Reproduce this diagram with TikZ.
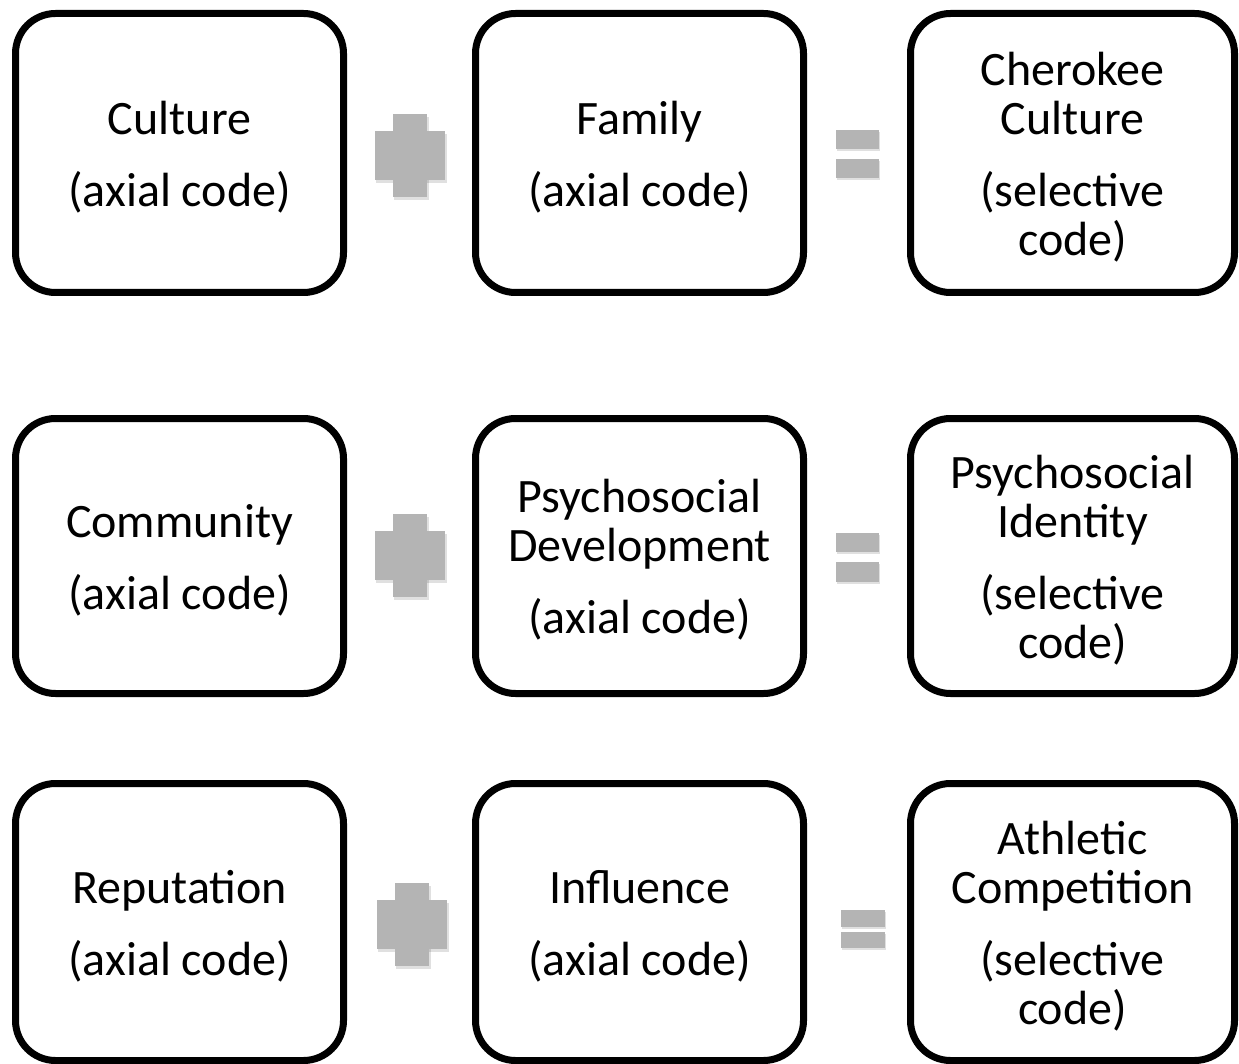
\documentclass[tikz,border=0pt]{standalone}
\usepackage{fontspec}
\setmainfont{Carlito}
\usetikzlibrary{shadows}
\definecolor{opgray}{HTML}{B4B4B4}
\tikzset{
  codebox/.style={draw=black, fill=white, line width=7pt, rounded corners=40pt,
    align=center, inner sep=0pt, minimum width=328pt,
    font=\fontsize{48}{49}\selectfont, text depth=0pt,
    drop shadow={opacity=0.25, shadow xshift=2pt, shadow yshift=-3pt}},
  opfill/.style={fill=opgray},
  opshadow/.style={fill=black, opacity=0.12}
}
\begin{document}
\begin{tikzpicture}[x=1pt,y=-1pt]
\useasboundingbox (0,0) rectangle (1239,1064);
% row 1
\node[codebox, minimum height=279pt] (c1) at (179.5,153) {};
\node[codebox, minimum height=279pt] (f1) at (639.5,153) {};
\node[codebox, minimum height=279pt, minimum width=324pt] (s1) at (1072.5,153) {};
% row 2
\node[codebox, minimum height=275pt] (c2) at (179.5,556) {};
\node[codebox, minimum height=275pt] (f2) at (639.5,556) {};
\node[codebox, minimum height=275pt, minimum width=324pt] (s2) at (1072.5,556) {};
% row 3
\node[codebox, minimum height=277pt] (c3) at (179.5,922) {};
\node[codebox, minimum height=277pt] (f3) at (639.5,922) {};
\node[codebox, minimum height=277pt, minimum width=324pt] (s3) at (1072.5,922) {};
% texts
\tikzset{boxtext/.style={align=center, inner sep=0pt, font=\fontsize{48}{49}\selectfont}}
\node[boxtext] (t1) at ([yshift=-4pt]c1.center) {Culture\\[23pt](axial code)};
\node[boxtext] (t2) at ([yshift=-4pt]f1.center) {Family\\[23pt](axial code)};
\node[boxtext] (t3) at ([yshift=-4pt]s1.center) {Cherokee\\Culture\\[23pt](selective\\code)};
\node[boxtext] (t4) at ([yshift=-4pt]c2.center) {Community\\[23pt](axial code)};
\node[boxtext] (t5) at ([yshift=-4pt]f2.center) {Psychosocial\\Development\\[23pt](axial code)};
\node[boxtext] (t6) at ([yshift=-4pt]s2.center) {Psychosocial\\Identity\\[23pt](selective\\code)};
\node[boxtext] (t7) at ([yshift=-4pt]c3.center) {Reputation\\[23pt](axial code)};
\node[boxtext] (t8) at ([yshift=-4pt]f3.center) {Influence\\[23pt](axial code)};
\node[boxtext] (t9) at ([yshift=-4pt]s3.center) {Athletic\\Competition\\[23pt](selective\\code)};
% plus signs
\foreach \dx/\dy in {0/0, 0/400, 2/769}{
  \begin{scope}[shift={(\dx,\dy)}]
    \fill[opshadow] (394,117) rectangle (429,200);
    \fill[opshadow] (376,134) rectangle (447,183);
    \fill[opfill] (393,114) rectangle (427,197);
    \fill[opfill] (375,131) rectangle (445,180);
  \end{scope}
}
% equals signs
\fill[opshadow] (837,132) rectangle (880,151);
\fill[opshadow] (837,161) rectangle (880,180);
\fill[opfill] (836,130) rectangle (879,149);
\fill[opfill] (836,159) rectangle (879,178);
\fill[opshadow] (837,535) rectangle (880,554);
\fill[opshadow] (837,564) rectangle (880,584);
\fill[opfill] (836,533) rectangle (879,552);
\fill[opfill] (836,562) rectangle (879,582);
\fill[opshadow] (842,912) rectangle (886,929);
\fill[opshadow] (842,934) rectangle (886,950);
\fill[opfill] (841,910) rectangle (885,927);
\fill[opfill] (841,932) rectangle (885,948);
\end{tikzpicture}
\end{document}
